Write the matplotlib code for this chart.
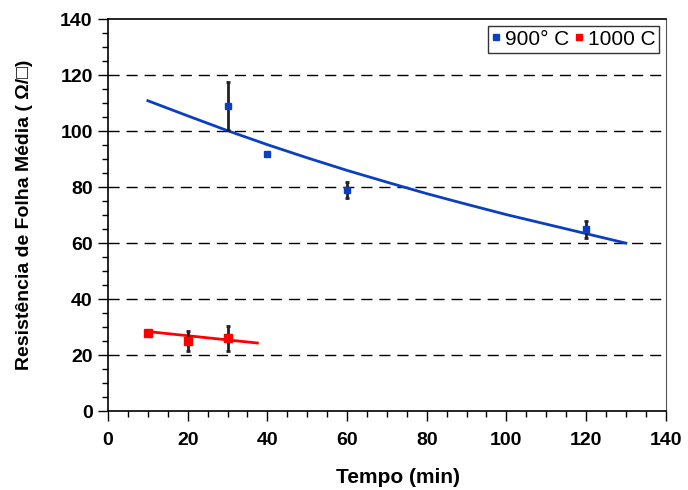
import matplotlib
matplotlib.use("Agg")
import matplotlib.pyplot as plt
from matplotlib.ticker import MultipleLocator

plt.rcParams['font.family'] = ['Liberation Sans', 'DejaVu Sans']

# Data: 900 C
t_900 = [30, 40, 60, 120]
r_900 = [109, 92, 79, 65]
e_900 = [8.5, 0, 3, 3]
# Fit curve 900 C
fit_t_900 = [10, 20, 30, 40, 50, 60, 70, 80, 90, 100, 110, 120, 130]
fit_r_900 = [110.9, 105.5, 100.2, 95.2, 90.5, 86.0, 81.8, 77.7, 73.9, 70.2, 66.8, 63.4, 60.0]

# Data: 1000 C
t_1000 = [10, 20, 30]
r_1000 = [28, 25, 26]
e_1000 = [1, 3.5, 4.5]
fit_t_1000 = [10, 37.5]
fit_r_1000 = [28.4, 24.3]

blue = '#0a3fc2'
red = '#ff0000'

fig = plt.figure(figsize=(6.88, 4.90), dpi=100)
ax = fig.add_axes([0.157, 0.1612, 0.8106, 0.7994])

ax.set_xlim(0, 140)
ax.set_ylim(0, 140)

for y in range(20, 140, 20):
    ax.axhline(y, color='black', lw=1.0, dashes=(8, 5), zorder=1)

ax.plot(fit_t_900, fit_r_900, color=blue, lw=2, zorder=2)
ax.plot(fit_t_1000, fit_r_1000, color=red, lw=2, zorder=2)

ax.errorbar(t_900, r_900, yerr=e_900, fmt='none', ecolor='#222222', elinewidth=2, capsize=1.5, capthick=2, zorder=3)
ax.errorbar(t_1000, r_1000, yerr=e_1000, fmt='none', ecolor='#222222', elinewidth=2, capsize=1.5, capthick=2, zorder=3)

ax.plot(t_900, r_900, 's', color=blue, ms=5, ls='none', zorder=4, label='900° C')
ax.plot(t_1000, r_1000, 's', color=red, ms=5.5, ls='none', zorder=4, label='1000 C')

ax.xaxis.set_major_locator(MultipleLocator(20))
ax.xaxis.set_minor_locator(MultipleLocator(5))
ax.yaxis.set_major_locator(MultipleLocator(20))
ax.yaxis.set_minor_locator(MultipleLocator(5))
ax.tick_params(which='major', direction='out', length=7, width=1, labelsize=14, pad=4)
ax.tick_params(axis='x', which='major', pad=8)
ax.tick_params(which='minor', direction='out', length=4, width=1)
for lab in ax.get_xticklabels() + ax.get_yticklabels():
    lab.set_fontweight('bold')

for s in ['left', 'bottom', 'top']:
    ax.spines[s].set_linewidth(1.2)
ax.spines['right'].set_linewidth(0.8)
ax.spines['right'].set_color('#555555')

ax.set_xlabel('Tempo (min)', fontsize=15, fontweight='bold')
ax.xaxis.set_label_coords(0.52, -0.145)
ax.set_ylabel('Resistência de Folha Média ( Ω/□)', fontsize=14, fontweight='bold')
ax.yaxis.set_label_coords(-0.135, 0.5)

leg = ax.legend(loc='upper right', ncol=2, fontsize=15, frameon=True, fancybox=False,
                handlelength=0.4, handletextpad=0.2, columnspacing=0.3, borderpad=0.2,
                borderaxespad=0.3, markerscale=0.9)
leg.get_frame().set_edgecolor('black')
leg.get_frame().set_linewidth(1)

fig.savefig('out.png', dpi=100)
